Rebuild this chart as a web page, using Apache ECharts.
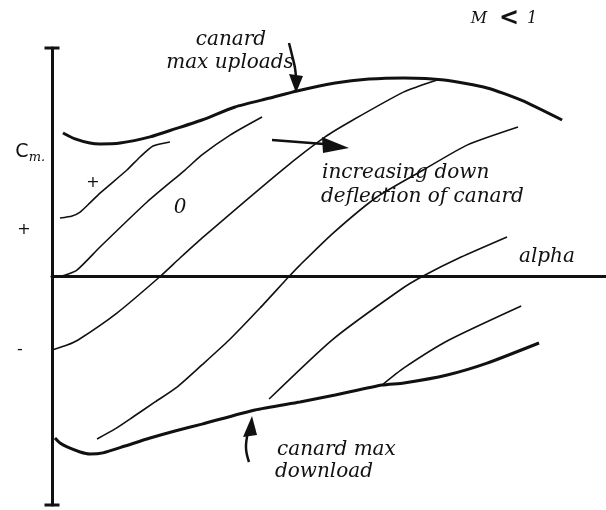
<!DOCTYPE html>
<html>
<head>
<meta charset="utf-8">
<script src="https://cdn.jsdelivr.net/npm/echarts@6/dist/echarts.min.js"></script>
<style>
  html, body { margin: 0; padding: 0; background: #fff; }
  #chart { width: 606px; height: 510px; }
</style>
</head>
<body>
<div id="chart"></div>
<script>
// Cm vs alpha sketch, units are arbitrary (alpha, Cm)
// canard max uploads (upper envelope)
var maxUpload = [[0.48,6.28],[1.01,6.02],[1.66,5.84],[2.10,5.80],[2.98,5.84],[4.29,6.11],[5.38,6.46],[6.56,6.85],[8.01,7.42],[9.54,7.81],[10.72,8.12],[12.39,8.47],[13.87,8.64],[15.40,8.69],[17.16,8.60],[19.04,8.25],[20.53,7.72],[22.32,6.85]];
// canard max download (lower envelope)
var maxDownload = [[0.13,-7.07],[0.35,-7.29],[0.66,-7.46],[1.23,-7.68],[1.66,-7.77],[2.23,-7.72],[3.19,-7.42],[4.29,-7.07],[5.38,-6.76],[6.56,-6.46],[8.88,-5.84],[10.85,-5.49],[12.39,-5.19],[14.44,-4.75],[15.40,-4.66],[17.29,-4.31],[19.04,-3.79],[21.31,-2.91]];
// canard deflection curves, from "+" to most down deflection
var defPlus = [[0.35,2.56],[0.88,2.65],[1.23,2.82],[1.66,3.22],[2.10,3.65],[3.28,4.66],[3.85,5.23],[4.42,5.71],[5.16,5.89]];
var defZero = [[0,0],[0.44,0.02],[1.09,0.28],[2.10,1.29],[4.16,3.26],[5.82,4.66],[6.56,5.32],[7.79,6.19],[9.19,6.98]];
var defMinus = [[0,-3.22],[0.66,-3.00],[1.14,-2.78],[2.84,-1.60],[4.73,0],[5.60,0.81],[6.56,1.68],[10.07,4.66],[11.95,6.11],[13.17,6.85],[15.40,8.08],[16.85,8.60]];
var def3 = [[1.97,-7.11],[2.76,-6.67],[3.54,-6.15],[4.51,-5.49],[5.47,-4.84],[6.56,-3.87],[7.75,-2.78],[9.10,-1.38],[10.37,0],[10.85,0.50],[12.30,1.90],[14.22,3.48],[16.24,4.66],[18.16,5.75],[20.39,6.54]];
var def4 = [[9.50,-5.36],[12.25,-2.78],[15.23,-0.59],[16.24,0.02],[17.90,0.85],[19.91,1.73]];
var def5 = [[14.44,-4.75],[15.40,-4.00],[17.37,-2.78],[20.53,-1.29]];

var ink = '#111';
var hand = 'italic 20px "DejaVu Serif"';

function curve(name, data, w) {
  return {
    name: name,
    type: 'line',
    data: data,
    smooth: 0.2,
    showSymbol: false,
    silent: true,
    lineStyle: { color: ink, width: w },
    z: 3
  };
}

var chart = echarts.init(document.getElementById('chart'));
var bar = 'path://M0,0 L10,0 L10,2 L0,2 Z';

chart.setOption({
  animation: false,
  backgroundColor: '#fff',
  grid: { left: 52, right: 0, top: 48, bottom: 5 },
  xAxis: {
    type: 'value', min: 0, max: 24.24,
    axisLine: { onZero: true, lineStyle: { color: ink, width: 3 } },
    axisTick: { show: false }, axisLabel: { show: false }, splitLine: { show: false }
  },
  yAxis: {
    type: 'value', min: -10, max: 10,
    axisLine: { show: true, symbol: [bar, bar], symbolSize: [15, 3], lineStyle: { color: ink, width: 3 } },
    axisTick: { show: false }, axisLabel: { show: false }, splitLine: { show: false }
  },
  series: [
    curve('canard max uploads', maxUpload, 3),
    curve('canard max download', maxDownload, 3),
    curve('+', defPlus, 1.6),
    curve('0', defZero, 1.6),
    curve('-', defMinus, 1.6),
    curve('d3', def3, 1.6),
    curve('d4', def4, 1.6),
    curve('d5', def5, 1.6)
  ],
  graphic: [
    // labels
    { type: 'text', style: { text: 'M', x: 479, y: 19, font: 'italic 16px "DejaVu Serif"', fill: ink, align: 'center', verticalAlign: 'middle' } },
    { type: 'text', style: { text: '<', x: 509, y: 19, font: 'bold 24px "DejaVu Sans"', fill: ink, align: 'center', verticalAlign: 'middle' } },
    { type: 'text', style: { text: '1', x: 532, y: 19, font: 'italic 16px "DejaVu Serif"', fill: ink, align: 'center', verticalAlign: 'middle' } },
    { type: 'text', style: { text: 'canard', x: 231, y: 40, font: hand, fill: ink, align: 'center', verticalAlign: 'middle' } },
    { type: 'text', style: { text: 'max uploads', x: 230, y: 63, font: hand, fill: ink, align: 'center', verticalAlign: 'middle' } },
    { type: 'text', style: { text: 'C', x: 22, y: 152, font: '19px "DejaVu Sans"', fill: ink, align: 'center', verticalAlign: 'middle' } },
    { type: 'text', style: { text: 'm.', x: 37, y: 158, font: 'italic 13px "DejaVu Serif"', fill: ink, align: 'center', verticalAlign: 'middle' } },
    { type: 'text', style: { text: '+', x: 24, y: 230, font: '16px "DejaVu Sans"', fill: ink, align: 'center', verticalAlign: 'middle' } },
    { type: 'text', style: { text: '-', x: 20, y: 350, font: '16px "DejaVu Sans"', fill: ink, align: 'center', verticalAlign: 'middle' } },
    { type: 'text', style: { text: '+', x: 93, y: 183, font: '16px "DejaVu Sans"', fill: ink, align: 'center', verticalAlign: 'middle' } },
    { type: 'text', style: { text: '0', x: 180, y: 208, font: hand, fill: ink, align: 'center', verticalAlign: 'middle' } },
    { type: 'text', style: { text: 'increasing down', x: 322, y: 173, font: hand, fill: ink, align: 'left', verticalAlign: 'middle' } },
    { type: 'text', style: { text: 'deflection of canard', x: 321, y: 197, font: hand, fill: ink, align: 'left', verticalAlign: 'middle' } },
    { type: 'text', style: { text: 'alpha', x: 519, y: 257, font: hand, fill: ink, align: 'left', verticalAlign: 'middle' } },
    { type: 'text', style: { text: 'canard max', x: 277, y: 450, font: hand, fill: ink, align: 'left', verticalAlign: 'middle' } },
    { type: 'text', style: { text: 'download', x: 275, y: 472, font: hand, fill: ink, align: 'left', verticalAlign: 'middle' } },
    // arrows
    { type: 'polyline', shape: { points: [[289,43],[292,55],[295,68],[296,78]], smooth: 0.4 }, style: { stroke: ink, lineWidth: 2.5, fill: null } },
    { type: 'polygon', shape: { points: [[289,74],[303,76],[296,93]] }, style: { fill: ink } },
    { type: 'polyline', shape: { points: [[272,140],[324,144]] }, style: { stroke: ink, lineWidth: 2.5, fill: null } },
    { type: 'polygon', shape: { points: [[322,137],[349,148],[323,153]] }, style: { fill: ink } },
    { type: 'polyline', shape: { points: [[249,462],[246,448],[248,432]], smooth: 0.4 }, style: { stroke: ink, lineWidth: 2.5, fill: null } },
    { type: 'polygon', shape: { points: [[243,437],[257,435],[252,416]] }, style: { fill: ink } }
  ]
});
</script>
</body>
</html>
